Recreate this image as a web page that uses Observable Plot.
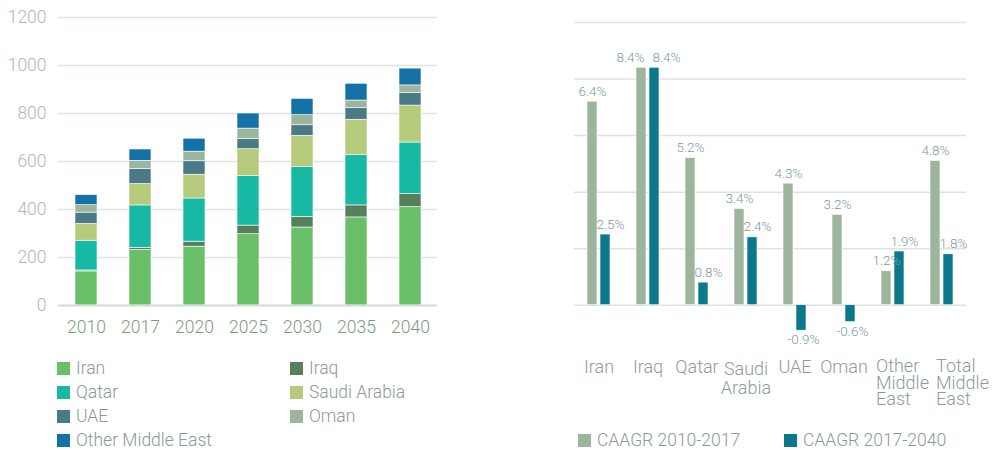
<!DOCTYPE html>
<html><head><meta charset="utf-8">
<script src="https://cdn.jsdelivr.net/npm/d3@7"></script>
<script src="https://cdn.jsdelivr.net/npm/@observablehq/plot@0.6"></script>
<style>
body{margin:0;background:#fff;font-family:Roboto,"Noto Sans",sans-serif;font-weight:300;}
#wrap{position:relative;width:997px;height:450px;overflow:hidden;}
#left{position:absolute;left:0;top:0;}
#right{position:absolute;left:520px;top:0;}
.leg{position:absolute;font-size:17.5px;color:#8a9a9a;display:flex;align-items:center;white-space:nowrap;line-height:20px;}
.sw{display:inline-block;width:13px;height:13px;margin-right:6px;}
</style></head><body><div id="wrap"><div id="left"></div><div id="right"></div></div>
<script>
// ---- Left chart data ----
const years = ["2010","2017","2020","2025","2030","2035","2040"];
const countries = ["Iran","Iraq","Qatar","Saudi Arabia","UAE","Oman","Other Middle East"];
const iran  = [142,231,245,297,325,367,410];
const iraq  = [4,9,21,36,44,50,54];
const qatar = [124,177,180,206,208,210,215];
const saudi = [70,89,99,112,130,147,154];
const uae   = [47,63,56,42,44,48,52];
const oman  = [31,34,40,44,42,32,32];
const other = [42,47,54,63,68,70,70];
const countryColors = ["#6abf69","#567f5a","#17b9a5","#b5ca7a","#4a7a86","#9db59d","#1572a8"];
const yTicks = [0,200,400,600,800,1000,1200];

// ---- Right chart data ----
const regions = ["Iran","Iraq","Qatar","Saudi\nArabia","UAE","Oman","Other\nMiddle\nEast","Total\nMiddle\nEast"];
const periods = ["CAAGR 2010-2017","CAAGR 2017-2040"];
const growth1017 = [7.2,8.4,5.2,3.4,4.3,3.2,1.2,5.1];
const growth1740 = [2.5,8.4,0.8,2.4,-0.9,-0.6,1.9,1.8];
const labels1017 = ["6.4%","8.4%","5.2%","3.4%","4.3%","3.2%","1.2%","4.8%"];
const labels1740 = ["2.5%","8.4%","0.8%","2.4%","-0.9%","-0.6%","1.9%","1.8%"];
const periodColors = ["#9db59d","#0a798a"];
const gridTicks = [0,2,4,6,8,10];

const series = [iran,iraq,qatar,saudi,uae,oman,other];
const stackRows = [];
years.forEach((yr,i)=>series.forEach((arr,j)=>stackRows.push({year:yr,country:countries[j],value:arr[i]})));

const left = Plot.plot({
  width: 450, height: 340,
  marginLeft: 58, marginRight: 13, marginTop: 17, marginBottom: 35,
  style: {fontFamily: "Roboto, sans-serif", fontSize: "17.5px", fontWeight: 300, background: "transparent"},
  x: {domain: years, paddingInner: 0.6, paddingOuter: 0.3, label: null},
  y: {domain: [0,1200], label: null},
  color: {domain: countries, range: countryColors},
  marks: [
    Plot.ruleY(yTicks, {stroke: "#dde3e1", strokeWidth: 1.5}),
    Plot.barY(stackRows, {x: "year", y: "value", fill: "country", order: countries, stroke: "white", strokeWidth: 0.6}),
    Plot.ruleY([0], {stroke: "#d6dcda", strokeWidth: 2}),
    Plot.axisY(yTicks, {tickSize: 0, tickPadding: 12, fill: "#a9bda9", fontSize: 17.5, tickFormat: d => String(d), label: null}),
    Plot.axisX({tickSize: 0, tickPadding: 15, fill: "#7b9c7b", fontSize: 17.5, label: null})
  ]
});
document.getElementById("left").appendChild(left);

const growthRows = [];
regions.forEach((r,i)=>{
  growthRows.push({region:r, period:periods[0], value:growth1017[i], label:labels1017[i]});
  growthRows.push({region:r, period:periods[1], value:growth1740[i], label:labels1740[i]});
});
const lblColor = "#7b9ca1";
const lbl = (rows, opts) => Plot.text(rows, {fx: "region", x: "period", y: "value", text: "label", fill: lblColor, fontSize: 13.5, ...opts});
const pos = d => d.value >= 0 && d.region !== "Iraq";
const cat = (names, opts) => Plot.text(names, {fx: d => d, text: d => d, frameAnchor: "bottom", lineAnchor: "top", dy: 27, fill: "#8c9c9c", fontSize: 18, lineHeight: 1, ...opts});
const right = Plot.plot({
  width: 470, height: 425,
  marginLeft: 51, marginRight: 21, marginTop: 22, marginBottom: 92,
  style: {fontFamily: "Roboto, sans-serif", fontSize: "18px", fontWeight: 300, background: "transparent"},
  fx: {domain: regions, padding: 0, label: null, axis: null},
  x: {domain: periods, paddingInner: 0.214, paddingOuter: 0.884, axis: null},
  y: {domain: [-1,10], axis: null},
  color: {domain: periods, range: periodColors},
  marks: [
    Plot.ruleY(gridTicks, {stroke: "#dde3e1", strokeWidth: 1.5}),
    Plot.barY(growthRows, {fx: "region", x: "period", y: "value", fill: "period", stroke: "white", strokeWidth: 0.6}),
    lbl(growthRows.filter(d => pos(d) && d.period === periods[0]), {lineAnchor: "bottom", dy: -6}),
    lbl(growthRows.filter(d => pos(d) && d.period === periods[1]), {lineAnchor: "bottom", dy: -6, dx: 5}),
    lbl(growthRows.filter(d => d.region === "Iraq" && d.period === periods[0]), {lineAnchor: "bottom", dy: -6, dx: -11}),
    lbl(growthRows.filter(d => d.region === "Iraq" && d.period === periods[1]), {lineAnchor: "bottom", dy: -6, dx: 12}),
    lbl(growthRows.filter(d => d.value < 0), {lineAnchor: "top", dy: 4, dx: 2}),
    cat([regions[0], regions[1], regions[2], regions[4], regions[5]], {}),
    cat([regions[3]], {lineHeight: 1.1}),
    cat([regions[6]], {lineHeight: 0.92, textAnchor: "start", dx: -17}),
    cat([regions[7]], {lineHeight: 0.92, textAnchor: "start", dx: -6})
  ]
});
document.getElementById("right").appendChild(right);

// ---- Legends (HTML) ----
const wrap = document.getElementById("wrap");
function legItem(x, y, color, text){
  const d = document.createElement("div");
  d.className = "leg";
  d.style.left = x + "px"; d.style.top = (y - 10) + "px";
  const s = document.createElement("span"); s.className = "sw"; s.style.background = color;
  d.appendChild(s); d.appendChild(document.createTextNode(text));
  wrap.appendChild(d);
}
countries.forEach((c,i)=>{
  const col = i % 2, row = Math.floor(i/2);
  legItem(col ? 290 : 57, 368 + row*24, countryColors[i], c);
});
periods.forEach((p,i)=>{
  legItem(i ? 784 : 578, 440, periodColors[i], p);
});
</script>
</body></html>
